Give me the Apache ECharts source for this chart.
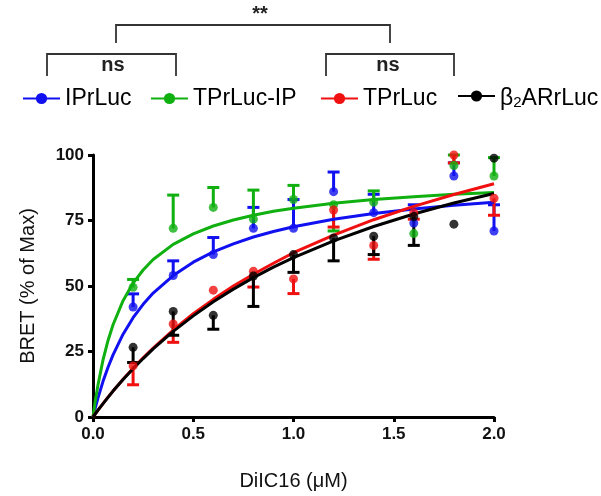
<!DOCTYPE html>
<html>
<head>
<meta charset="utf-8">
<script src="https://cdn.jsdelivr.net/npm/echarts@6/dist/echarts.min.js"></script>
<style>
html,body{margin:0;padding:0;background:#fff;}
#chart{width:601px;height:496px;}
</style>
</head>
<body>
<div id="chart"></div>
<script>
// ---- data ----
var seriesNames = ['IPrLuc', 'TPrLuc-IP', 'TPrLuc', 'β2ARrLuc'];
var colors = ['#1010f0', '#10b010', '#f01010', '#000000'];
var xTicks = ['0.0', '0.5', '1.0', '1.5', '2.0'];
var yTicks = ['0', '25', '50', '75', '100'];

var conc = [0.2, 0.4, 0.6, 0.8, 1.0, 1.2, 1.4, 1.6, 1.8, 2.0];

var bluePts  = [42, 54, 62, 72, 72, 86, 78, 74, 92, 71];
var blueErr  = [47, 59.6, 68.5, 80, 83, 93.5, 85, 81, 97, 81];
var greenPts = [49.5, 72, 80, 75.5, 83, 81, 82, 70, 96, 92];
var greenErr = [52.5, 84.7, 87.6, 86.6, 88.4, 71, 86.3, 70, 100, 99];
var redPts   = [19.5, 35.5, 48.4, 55.6, 52.7, 79, 65.5, 78, 100, 83.5];
var redErr   = [12.3, 28.5, 48.4, 49.6, 47.1, 72.5, 60.2, 75.5, 97, 77];
var blackPts = [26.6, 40.3, 38.8, 53.8, 62, 68.3, 69, 76.5, 73.6, 98.8];
var blackErr = [20.8, 31.2, 33.5, 42.2, 55.2, 59.6, 62, 65.5, 73.6, 98.8];

// fitted curves
var curveX     = [0, 0.01, 0.025, 0.05, 0.075, 0.1, 0.15, 0.2, 0.25, 0.3, 0.4, 0.5, 0.6, 0.7, 0.8, 0.9, 1.0, 1.2, 1.4, 1.6, 1.8, 2.0];
var blueCurve  = [0, 3.1, 7.3, 13.6, 19.0, 23.7, 31.6, 37.9, 43.0, 47.3, 54.0, 59.1, 63.0, 66.1, 68.7, 70.8, 72.6, 75.5, 77.7, 79.4, 80.8, 82.0];
var greenCurve = [0, 5.4, 12.3, 21.8, 29.2, 35.2, 44.4, 51.1, 56.1, 60.1, 65.9, 69.9, 72.9, 75.2, 77.0, 78.5, 79.7, 81.6, 83.0, 84.1, 85.0, 85.7];
var redCurve   = [0, 1.05, 2.6, 5.1, 7.6, 9.9, 14.4, 18.6, 22.6, 26.3, 33.2, 39.4, 44.9, 50.0, 54.5, 58.7, 62.7, 69.4, 75.3, 80.4, 84.9, 89.0];
var blackCurve = [0, 1.05, 2.6, 5.1, 7.5, 9.9, 14.3, 18.4, 22.3, 26.0, 32.7, 38.6, 44.0, 48.8, 53.2, 57.2, 60.8, 67.2, 72.7, 77.5, 81.7, 85.3];

// ---- build ----
var pts = [bluePts, greenPts, redPts, blackPts];
var errs = [blueErr, greenErr, redErr, blackErr];
var curves = [blueCurve, greenCurve, redCurve, blackCurve];

function zip2(xs, ys) { return xs.map(function (x, i) { return [x, ys[i]]; }); }
function zip3(xs, ys, es) { return xs.map(function (x, i) { return [x, ys[i], es[i]]; }); }

var series = [];
for (var k = 0; k < 4; k++) {
  (function (k) {
    series.push({
      type: 'custom',
      name: seriesNames[k] + ' err',
      data: zip3(conc, pts[k], errs[k]),
      encode: { x: 0, y: [1, 2] },
      z: 2 + k,
      silent: true,
      renderItem: function (params, api) {
        var x = api.value(0), y = api.value(1), e = api.value(2);
        if (Math.abs(e - y) < 0.01) return null;
        var p1 = api.coord([x, y]);
        var p2 = api.coord([x, e]);
        var st = { stroke: colors[k], lineWidth: 3 };
        return {
          type: 'group',
          children: [
            { type: 'line', shape: { x1: p1[0], y1: p1[1], x2: p2[0], y2: p2[1] }, style: st },
            { type: 'line', shape: { x1: p2[0] - 6, y1: p2[1], x2: p2[0] + 6, y2: p2[1] }, style: st }
          ]
        };
      }
    });
  })(k);
}
for (var k = 0; k < 4; k++) {
  series.push({
    type: 'line',
    name: seriesNames[k],
    data: zip2(curveX, curves[k]),
    smooth: false,
    symbol: 'circle',
    symbolSize: 8,
    showSymbol: false,
    lineStyle: { color: colors[k], width: 3, join: 'round' },
    itemStyle: { color: colors[k] },
    z: 6 + k,
    silent: true
  });
}
for (var k = 0; k < 4; k++) {
  series.push({
    type: 'scatter',
    name: seriesNames[k] + ' pts',
    data: zip2(conc, pts[k]),
    symbol: 'circle',
    symbolSize: 9,
    itemStyle: { color: colors[k] },
    z: 12 + k,
    silent: true
  });
}

var legendLefts = [17, 145, 315, 452];
var legends = seriesNames.map(function (n, i) {
  var lg = {
    data: [n],
    left: legendLefts[i],
    top: 82,
    itemWidth: 37,
    itemHeight: 14,
    itemGap: 0,
    selectedMode: false,
    textStyle: {
      fontFamily: 'Liberation Sans, Arial, sans-serif',
      fontSize: 23,
      color: '#000',
      rich: {
        m: { fontFamily: 'Liberation Sans, Arial, sans-serif', fontSize: 23, color: '#000', lineHeight: 28, verticalAlign: 'bottom' },
        s: { fontFamily: 'Liberation Sans, Arial, sans-serif', fontSize: 15, color: '#000', lineHeight: 28, verticalAlign: 'bottom' }
      }
    }
  };
  if (n === 'β2ARrLuc') {
    lg.formatter = function () { return '{m|β}{s|2}{m|ARrLuc}'; };
  }
  return lg;
});

var bracketStyle = { stroke: '#333', lineWidth: 1.8, fill: null };
var textFont = 'bold 20px Liberation Sans, Arial, sans-serif';

var option = {
  animation: false,
  backgroundColor: '#fff',
  grid: { left: 93, right: 107, top: 155, bottom: 73, containLabel: false },
  legend: legends,
  xAxis: {
    type: 'value',
    min: 0, max: 2, interval: 0.5,
    name: 'DiIC16 (μM)',
    nameLocation: 'middle',
    nameGap: 54,
    nameTextStyle: { fontFamily: 'Liberation Sans, Arial, sans-serif', fontSize: 20, color: '#111' },
    axisLine: { lineStyle: { color: '#000', width: 3 } },
    axisTick: { show: true, length: 5, lineStyle: { color: '#000', width: 3 } },
    axisLabel: {
      margin: 9,
      fontFamily: 'Liberation Sans, Arial, sans-serif', fontSize: 17, fontWeight: 'bold', color: '#111',
      formatter: function (v) { var i = Math.round(v / 0.5); return xTicks[i]; }
    },
    splitLine: { show: false }
  },
  yAxis: {
    type: 'value',
    min: 0, max: 100, interval: 25,
    name: 'BRET (% of Max)',
    nameLocation: 'middle',
    nameGap: 55,
    nameTextStyle: { fontFamily: 'Liberation Sans, Arial, sans-serif', fontSize: 20, color: '#111' },
    axisLine: { lineStyle: { color: '#000', width: 3 } },
    axisTick: { show: true, length: 5, lineStyle: { color: '#000', width: 3 } },
    axisLabel: {
      margin: 9,
      fontFamily: 'Liberation Sans, Arial, sans-serif', fontSize: 17, fontWeight: 'bold', color: '#111',
      formatter: function (v) { var i = Math.round(v / 25); return yTicks[i]; }
    },
    splitLine: { show: false }
  },
  graphic: [
    { type: 'polyline', shape: { points: [[116, 43], [116, 25], [390, 25], [390, 43]] }, style: bracketStyle },
    { type: 'polyline', shape: { points: [[47, 76], [47, 54], [176, 54], [176, 76]] }, style: bracketStyle },
    { type: 'polyline', shape: { points: [[326, 76], [326, 54], [454, 54], [454, 76]] }, style: bracketStyle },
    { type: 'text', x: 260, y: 14, style: { text: '**', font: textFont, fill: '#222', align: 'center', verticalAlign: 'middle' } },
    { type: 'text', x: 113, y: 65, style: { text: 'ns', font: textFont, fill: '#222', align: 'center', verticalAlign: 'middle' } },
    { type: 'text', x: 388, y: 65, style: { text: 'ns', font: textFont, fill: '#222', align: 'center', verticalAlign: 'middle' } }
  ],
  series: series
};

var chart = echarts.init(document.getElementById('chart'), null, { renderer: 'canvas' });
chart.setOption(option);
</script>
</body>
</html>
